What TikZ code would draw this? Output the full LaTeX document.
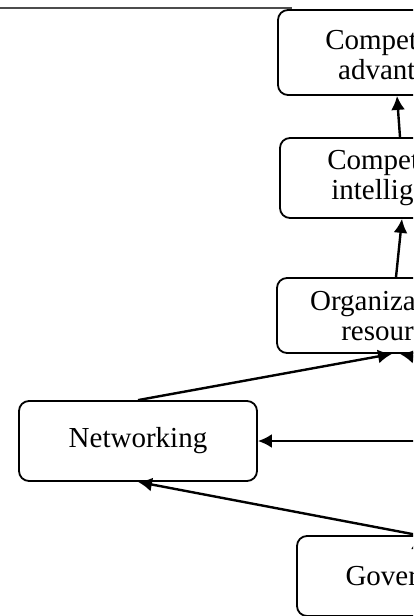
\documentclass[tikz,border=0pt]{standalone}
\usepackage{fontspec}
\setmainfont{Liberation Serif}
\usepackage{tikz}
\usetikzlibrary{arrows.meta}

\begin{document}
\begin{tikzpicture}[x=0.5pt, y=-0.5pt]
	\tikzstyle{box} = [draw=black, line width=0.9pt, rounded corners=5pt, align=center,
	                   minimum width=119pt, inner sep=0pt,
	                   font=\fontsize{14.5}{15}\selectfont]
	\tikzstyle{arrow} = [draw=black, line width=1.2pt, -{Latex[length=7pt,width=7pt]}]
	\useasboundingbox (0,0) rectangle (413,616);
	\clip (0,0) rectangle (413,616);
	\draw [gray!60!black, line width=0.7pt] (0,8) -- (292,8);
		\node[box, minimum height=42.5pt] (ca) at (397,52.5) {\rule{0pt}{15pt}Competitive\\advantage};
		\node[box, minimum height=40pt] (ci) at (399,178) {Competitive\\intelligence};
		\node[box, minimum height=37.5pt] (or) at (396,315.5) {Organizational\\resources};
		\node[box, minimum height=40pt] (net) at (138,441) {Networking};
		\node[box, minimum height=40pt, minimum width=121pt] (gov) at (418,576) {Government};
	\coordinate (rgt) at (480,441);
	\coordinate (rgt2) at (652,401);
	\path [arrow] ([xshift=0.5pt]ci.north) edge ([xshift=0pt]ca.south)
		      (or.north) edge ([xshift=1.5pt]ci.south)
		      (net.north) edge ([xshift=-2pt]or.south)
		      (rgt2) edge ([xshift=2pt]or.south)
		      (rgt) edge (net.east)
		      (gov.north) edge (net.south);
\end{tikzpicture}
\end{document}
